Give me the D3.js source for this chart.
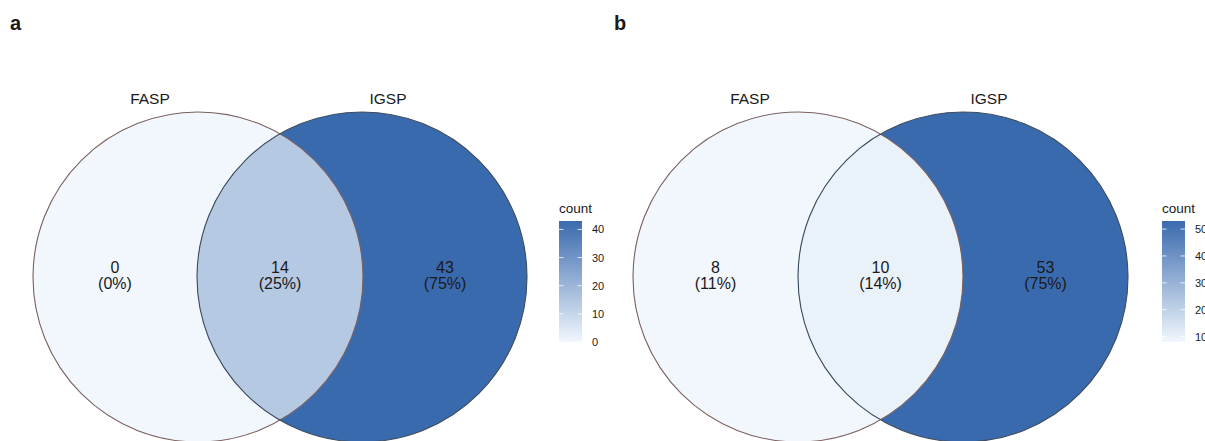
<!DOCTYPE html>
<html>
<head>
<meta charset="utf-8">
<script src="https://cdn.jsdelivr.net/npm/d3@7"></script>
<style>
  body { margin: 0; background: #fff; overflow: hidden; }
  text { font-family: "Liberation Sans", Arial, sans-serif; fill: #1a1a1a; }
</style>
</head>
<body>
<svg id="chart"></svg>
<script>
const width = 1205;
const height = 441;

// data
const setNames = ['FASP', 'IGSP'];
const regionsA = [0, 14, 43];          // FASP only, both, IGSP only
const percentsA = ['0%', '25%', '75%'];
const regionsB = [8, 10, 53];
const percentsB = ['11%', '14%', '75%'];
const ticksA = [0, 10, 20, 30, 40];
const ticksB = [10, 20, 30, 40, 50];

const lowColor = '#f1f7fd';
const highColor = '#3a6aae';

const svg = d3.select('#chart').attr('width', width).attr('height', height);

const panels = [
    { tag: 'a', counts: regionsA, pcts: percentsA, ticks: ticksA, x0: 0, cxL: 198, cxR: 362, legendX: 559 },
    { tag: 'b', counts: regionsB, pcts: percentsB, ticks: ticksB, x0: 604, cxL: 798, cxR: 963, legendX: 1162 }
];

const cy = 277;
const r = 165;

panels.forEach((p, i) => {
    const g = svg.append('g');
    const color = d3.scaleLinear().domain(d3.extent(p.counts)).range([lowColor, highColor]).interpolate(d3.interpolateRgb);

    g.append('text').attr('x', p.x0 + 10).attr('y', 30).attr('font-size', 20).attr('font-weight', 'bold').text(p.tag);

    // clip for the overlap
    const clipId = 'clip' + i;
    svg.append('defs').append('clipPath').attr('id', clipId)
        .append('circle').attr('cx', p.cxL).attr('cy', cy).attr('r', r);

    g.append('circle').attr('cx', p.cxL).attr('cy', cy).attr('r', r).attr('fill', color(p.counts[0]));
    g.append('circle').attr('cx', p.cxR).attr('cy', cy).attr('r', r).attr('fill', color(p.counts[2]));
    g.append('circle').attr('cx', p.cxR).attr('cy', cy).attr('r', r).attr('fill', color(p.counts[1]))
        .attr('clip-path', `url(#${clipId})`);

    // outlines
    g.append('circle').attr('cx', p.cxL).attr('cy', cy).attr('r', r).attr('fill', 'none')
        .attr('stroke', '#7a6060').attr('stroke-width', 1.1);
    g.append('circle').attr('cx', p.cxR).attr('cy', cy).attr('r', r).attr('fill', 'none')
        .attr('stroke', '#3c4c5c').attr('stroke-width', 1.1);

    // set labels
    g.append('text').attr('x', p.cxL - 48).attr('y', 104).attr('text-anchor', 'middle').attr('font-size', 15.5).text(setNames[0]);
    g.append('text').attr('x', p.cxR + 26).attr('y', 104).attr('text-anchor', 'middle').attr('font-size', 15.5).text(setNames[1]);

    // region labels
    const labelX = [
        ((p.cxL - r) + (p.cxR - r)) / 2,
        (p.cxL + p.cxR) / 2,
        ((p.cxL + r) + (p.cxR + r)) / 2
    ];
    p.counts.forEach((c, k) => {
        const t = g.append('text').attr('text-anchor', 'middle').attr('font-size', 16);
        t.append('tspan').attr('x', labelX[k]).attr('y', 273).text(c);
        t.append('tspan').attr('x', labelX[k]).attr('y', 289).text(`(${p.pcts[k]})`);
    });

    // legend
    const ext = d3.extent(p.counts);
    const y = d3.scaleLinear().domain(ext).range([342, 221]);
    const gradId = 'grad' + i;
    const grad = svg.append('defs').append('linearGradient').attr('id', gradId)
        .attr('x1', 0).attr('y1', 1).attr('x2', 0).attr('y2', 0);
    d3.range(0, 1.001, 0.1).forEach(f => {
        grad.append('stop').attr('offset', f).attr('stop-color', color(ext[0] + f * (ext[1] - ext[0])));
    });
    const barW = 23;
    g.append('text').attr('x', p.legendX).attr('y', 213).attr('font-size', 13.5).text('count');
    g.append('rect').attr('x', p.legendX).attr('y', y(ext[1])).attr('width', barW)
        .attr('height', y(ext[0]) - y(ext[1])).attr('fill', `url(#${gradId})`);
    p.ticks.forEach(v => {
        g.append('line').attr('x1', p.legendX).attr('x2', p.legendX + 4.5).attr('y1', y(v)).attr('y2', y(v))
            .attr('stroke', '#fff').attr('stroke-width', 0.8);
        g.append('line').attr('x1', p.legendX + barW - 4.5).attr('x2', p.legendX + barW).attr('y1', y(v)).attr('y2', y(v))
            .attr('stroke', '#fff').attr('stroke-width', 0.8);
    });
    const axis = g.append('g').attr('transform', `translate(${p.legendX + barW},0)`)
        .call(d3.axisRight(y).tickValues(p.ticks).tickSize(0).tickPadding(10));
    axis.select('.domain').remove();
    axis.selectAll('text').attr('font-size', 11).style('font-family', '"Liberation Sans", Arial, sans-serif').attr('fill', '#333');
});
</script>
</body>
</html>
